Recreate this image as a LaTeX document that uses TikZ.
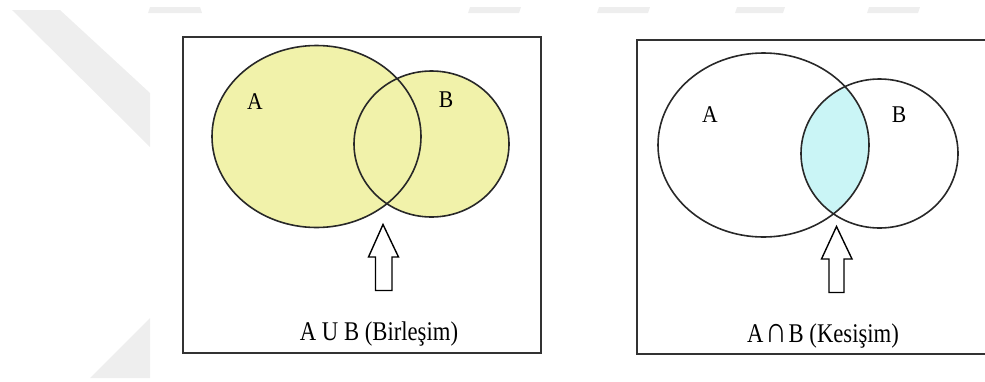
\documentclass[tikz,border=0pt]{standalone}
\usepackage{fontspec}
\setmainfont{Liberation Serif}
\definecolor{wm}{RGB}{238,238,238}
\definecolor{setyellow}{RGB}{241,242,170}
\definecolor{setcyan}{RGB}{202,245,246}
\definecolor{edge}{RGB}{40,40,40}
\definecolor{frame}{RGB}{50,50,50}
\tikzset{
  wmark/.style={fill=wm, draw=none},
  framebox/.style={draw=frame, line width=2.2pt},
  setline/.style={draw=edge, line width=1.6pt},
  setlabel/.style={font=\fontsize{24}{26}\selectfont, inner sep=0pt, xscale=0.9},
  caption/.style={font=\fontsize{27}{30}\selectfont, inner sep=0pt, anchor=base, xscale=0.84},
  uparrow/.style={draw=black, fill=white, line width=1.4pt, line join=miter}
}
\begin{document}
\begin{tikzpicture}[x=1pt, y=-1pt]
\useasboundingbox (0,0) rectangle (985,381);
% watermark
\fill[wmark] (12,10) -- (60,10) -- (150,93) -- (150,147) -- cycle;
\fill[wmark] (90,378) -- (150,318) -- (150,378) -- cycle;
\fill[wmark] (150,7) -- (200,7) -- (202,13) -- (148,13) -- cycle;
\fill[wmark] (470,7) -- (521,7) -- (519,13) -- (468,13) -- cycle;
\fill[wmark] (599,7) -- (650,7) -- (648,13) -- (597,13) -- cycle;
\fill[wmark] (737,7) -- (785,7) -- (783,13) -- (735,13) -- cycle;
\fill[wmark] (869,7) -- (920,7) -- (918,13) -- (867,13) -- cycle;

% ---------- left panel: union ----------
\draw[framebox] (183,37) rectangle (541,353);
\fill[setyellow] (316.5,136.5) ellipse [x radius=104.5pt, y radius=91pt];
\fill[setyellow] (431.5,144) ellipse [x radius=77.5pt, y radius=73pt];
\draw[setline] (316.5,136.5) ellipse [x radius=104.5pt, y radius=91pt];
\draw[setline] (431.5,144) ellipse [x radius=77.5pt, y radius=73pt];
\node[setlabel] (la) at (255,102) {A};
\node[setlabel] (lb) at (446,100) {B};
\coordinate (ltip) at (383,224.5);
\draw[uparrow] (ltip) -- (398.5,257) -- (392,257) -- (392,290.5) -- (375.5,290.5) -- (375.5,257) -- (368.5,257) -- cycle;
\node[caption] (lcap) at (379,340) {A U B (Birleşim)};

% ---------- right panel: intersection ----------
\draw[framebox] (637,40) -- (990,40);
\draw[framebox] (637,39) -- (637,354) -- (990,354);
\begin{scope}
  \clip (763.5,145) ellipse [x radius=105.5pt, y radius=92pt];
  \fill[setcyan] (879.5,153.5) ellipse [x radius=78.5pt, y radius=74.5pt];
\end{scope}
\draw[setline] (763.5,145) ellipse [x radius=105.5pt, y radius=92pt];
\draw[setline] (879.5,153.5) ellipse [x radius=78.5pt, y radius=74.5pt];
\node[setlabel] (ra) at (710,115) {A};
\node[setlabel] (rb) at (899,115) {B};
\coordinate (rtip) at (836.5,226.5);
\draw[uparrow] (rtip) -- (852,259) -- (844,259) -- (844,292.5) -- (829,292.5) -- (829,259) -- (821.5,259) -- cycle;
\node[caption] (rcap) at (823,342) {A\kern2pt{\fontsize{36}{36}\selectfont ∩}\kern2pt B (Kesişim)};
\end{tikzpicture}
\end{document}
